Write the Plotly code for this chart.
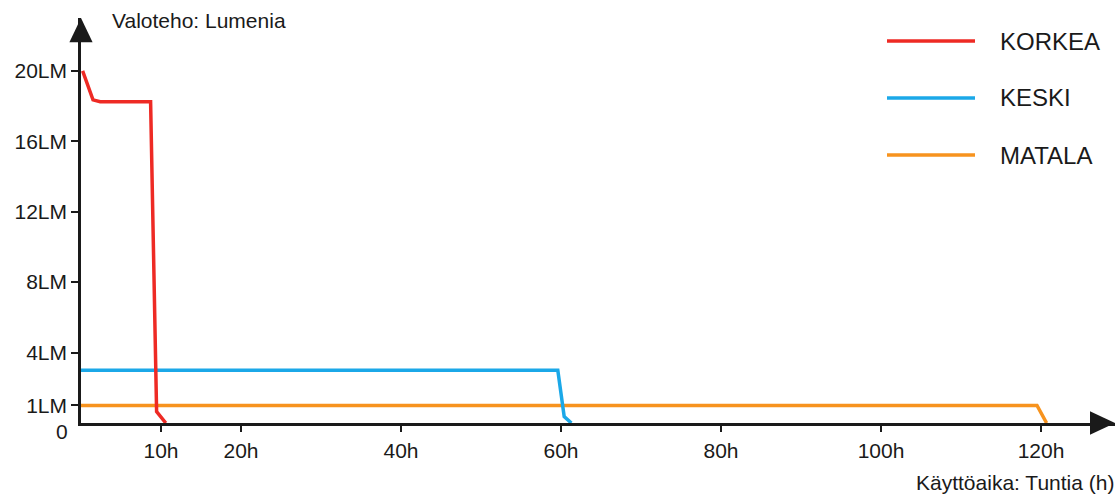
import plotly.graph_objects as go

# Data (hours, lumens)
korkea_x = [0.2, 1.5, 2.4, 8.7, 9.45, 10.6]
korkea_y = [20.0, 18.35, 18.25, 18.25, 0.65, 0.0]
keski_x = [0.0, 59.6, 60.4, 61.3]
keski_y = [3.0, 3.0, 0.36, 0.0]
matala_x = [0.0, 119.5, 120.7]
matala_y = [1.0, 1.0, 0.0]

x_tickvals = [10, 20, 40, 60, 80, 100, 120]
x_ticktext = ["10h", "20h", "40h", "60h", "80h", "100h", "120h"]
y_tickvals = [1, 4, 8, 12, 16, 20]
y_ticktext = ["1LM", "4LM", "8LM", "12LM", "16LM", "20LM"]

series_names = ["KORKEA", "KESKI", "MATALA"]
colors = {"KORKEA": "#ee2a24", "KESKI": "#1ba8e8", "MATALA": "#f7931e"}

FONT = "Liberation Sans, Arial, sans-serif"
INK = "#1a1a1a"

fig = go.Figure()
fig.add_trace(go.Scatter(x=matala_x, y=matala_y, mode="lines", name="MATALA",
                         line=dict(color=colors["MATALA"], width=3.5), showlegend=False))
fig.add_trace(go.Scatter(x=keski_x, y=keski_y, mode="lines", name="KESKI",
                         line=dict(color=colors["KESKI"], width=3.5), showlegend=False))
fig.add_trace(go.Scatter(x=korkea_x, y=korkea_y, mode="lines", name="KORKEA",
                         line=dict(color=colors["KORKEA"], width=3.5), showlegend=False))

fig.update_layout(
    width=1120, height=495,
    margin=dict(l=81, r=5, t=18, b=72),
    paper_bgcolor="white", plot_bgcolor="white",
    font=dict(family=FONT, color=INK),
    xaxis=dict(range=[0, 129.25], showgrid=False, zeroline=False,
               showline=True, linecolor=INK, linewidth=2.5,
               ticks="outside", ticklen=6, tickwidth=2, tickcolor=INK,
               tickvals=x_tickvals, ticktext=x_ticktext,
               tickfont=dict(size=21, color=INK), ticklabelstandoff=1),
    yaxis=dict(range=[0, 23], showgrid=False, zeroline=False,
               showline=True, linecolor=INK, linewidth=2.5,
               ticks="outside", ticklen=7, tickwidth=2, tickcolor=INK,
               tickvals=y_tickvals, ticktext=y_ticktext,
               tickfont=dict(size=21, color=INK)),
)

# Arrowheads
fig.add_shape(type="path", xref="paper", yref="paper",
              path="M 0,1.0 L -0.0112,0.94 L 0.0112,0.94 Z",
              fillcolor=INK, line=dict(color=INK, width=0))
fig.add_shape(type="path", xref="paper", yref="paper",
              path="M 1.0,0 L 0.9758,0.029 L 0.9758,-0.029 Z",
              fillcolor=INK, line=dict(color=INK, width=0))

# Manual legend
legend_y = [0.943, 0.8025, 0.6617]
for name, ly in zip(series_names, legend_y):
    fig.add_shape(type="line", xref="paper", yref="paper",
                  x0=0.7795, x1=0.8646, y0=ly, y1=ly,
                  line=dict(color=colors[name], width=3.5))
    fig.add_annotation(x=0.8868, y=ly, xref="paper", yref="paper",
                       text=name, showarrow=False, xanchor="left", yanchor="middle",
                       font=dict(size=24, color=INK, family=FONT))

# Axis titles and origin label
fig.add_annotation(x=0.028, y=0.995, xref="paper", yref="paper",
                   text="Valoteho: Lumenia", showarrow=False,
                   xanchor="left", yanchor="middle",
                   font=dict(size=21, color=INK, family=FONT))
fig.add_annotation(x=1.001, y=-0.148, xref="paper", yref="paper",
                   text="Käyttöaika: Tuntia (h)", showarrow=False,
                   xanchor="right", yanchor="middle",
                   font=dict(size=21, color=INK, family=FONT))
fig.add_annotation(x=-0.0184, y=-0.022, xref="paper", yref="paper",
                   text="0", showarrow=False, xanchor="center", yanchor="middle",
                   font=dict(size=21, color=INK, family=FONT))

fig.write_html("out.html", config={"displayModeBar": False},
               post_script="document.body.style.margin='0px';document.body.style.overflow='hidden';")
